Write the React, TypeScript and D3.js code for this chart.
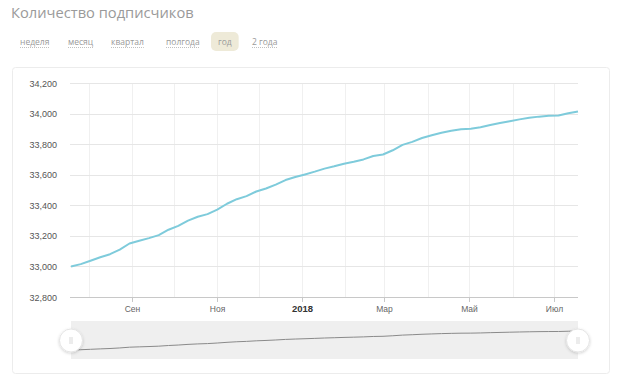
import React, { useEffect, useRef } from "react";
import * as d3 from "d3";

const titleText = "Количество подписчиков";
const rangeButtons = ["неделя", "месяц", "квартал", "полгода", "год", "2 года"];
const activeButton = "год";

const dates = [
  "2017-07-19", "2017-07-26", "2017-08-02", "2017-08-09", "2017-08-16", "2017-08-23",
  "2017-08-30", "2017-09-06", "2017-09-13", "2017-09-20", "2017-09-27", "2017-10-04",
  "2017-10-11", "2017-10-18", "2017-10-25", "2017-11-01", "2017-11-08", "2017-11-15",
  "2017-11-22", "2017-11-29", "2017-12-06", "2017-12-13", "2017-12-20", "2017-12-27",
  "2018-01-03", "2018-01-10", "2018-01-17", "2018-01-24", "2018-01-31", "2018-02-07",
  "2018-02-14", "2018-02-21", "2018-02-28", "2018-03-07", "2018-03-14", "2018-03-21",
  "2018-03-28", "2018-04-04", "2018-04-11", "2018-04-18", "2018-04-25", "2018-05-02",
  "2018-05-09", "2018-05-16", "2018-05-23", "2018-05-30", "2018-06-06", "2018-06-13",
  "2018-06-20", "2018-06-27", "2018-07-04", "2018-07-11", "2018-07-18",
];
const subscribers = [
  33000, 33015, 33037, 33060, 33080, 33110,
  33150, 33168, 33185, 33205, 33240, 33265,
  33300, 33325, 33342, 33372, 33410, 33440,
  33460, 33490, 33510, 33535, 33565, 33585,
  33602, 33620, 33640, 33655, 33672, 33685,
  33700, 33722, 33732, 33760, 33795, 33815,
  33840, 33858, 33875, 33888, 33898, 33900,
  33910, 33925, 33938, 33950, 33962, 33972,
  33980, 33985, 33988, 34002, 34014,
];
const yTicks = [32800, 33000, 33200, 33400, 33600, 33800, 34000, 34200];
const xLabelTicks = [
  { date: "2017-09-01", label: "Сен", bold: false },
  { date: "2017-11-01", label: "Ноя", bold: false },
  { date: "2018-01-01", label: "2018", bold: true },
  { date: "2018-03-01", label: "Мар", bold: false },
  { date: "2018-05-01", label: "Май", bold: false },
  { date: "2018-07-01", label: "Июл", bold: false },
];
const xDomain = ["2017-07-19", "2018-07-18"];
const yDomain = [32800, 34200];

const parse = d3.utcParse("%Y-%m-%d");

export default function App() {
  const ref = useRef<SVGSVGElement>(null);

  useEffect(() => {
    const svg = d3.select(ref.current);
    svg.selectAll("*").remove();
    const font = "'Liberation Sans', Arial, sans-serif";

    const data = dates.map((d, i) => ({ date: parse(d)!, value: subscribers[i] }));

    const x = d3.scaleUtc().domain([parse(xDomain[0])!, parse(xDomain[1])!]).range([71, 578]);
    const y = d3.scaleLinear().domain(yDomain).range([297, 83]);

    const defs = svg.append("defs");
    const filt = defs.append("filter").attr("id", "sh").attr("x", "-50%").attr("y", "-50%").attr("width", "200%").attr("height", "200%");
    filt.append("feDropShadow").attr("dx", 0).attr("dy", 1).attr("stdDeviation", 1.5).attr("flood-color", "#000").attr("flood-opacity", 0.18);

    // title
    svg.append("text").attr("x", 11).attr("y", 17.5).attr("font-family", "'Open Sans', sans-serif")
      .attr("font-size", 14.7).attr("fill", "#9a9a9a").text(titleText);

    // buttons
    const btnX = [20, 68, 111, 166, 218, 252];
    rangeButtons.forEach((b, i) => {
      const g = svg.append("g");
      const t = g.append("text").attr("x", btnX[i]).attr("y", 45).attr("font-family", "'Open Sans', sans-serif")
        .attr("font-size", 8.5).attr("fill", "#9a9a9a").text(b);
      const w = (t.node() as SVGTextElement).getComputedTextLength();
      if (b === activeButton) {
        g.insert("rect", "text").attr("x", btnX[i] - 7).attr("y", 32).attr("width", w + 14).attr("height", 19)
          .attr("rx", 5).attr("fill", "#eeead8");
      } else {
        g.append("line").attr("x1", btnX[i]).attr("x2", btnX[i] + w).attr("y1", 47.5).attr("y2", 47.5)
          .attr("stroke", "#b0b0b0").attr("stroke-width", 0.8).attr("stroke-dasharray", "1,1");
      }
    });

    // panel
    svg.append("rect").attr("x", 12.5).attr("y", 67.5).attr("width", 597).attr("height", 306).attr("rx", 3)
      .attr("fill", "#fff").attr("stroke", "#ececec");

    // vertical grid monthly
    const months = d3.utcMonth.range(x.domain()[0], x.domain()[1]);
    svg.append("g").selectAll("line").data(months).join("line")
      .attr("x1", (d) => Math.round(x(d)) + 0.5).attr("x2", (d) => Math.round(x(d)) + 0.5)
      .attr("y1", 83).attr("y2", 297).attr("stroke", "#f0f0f0");

    // horizontal grid
    svg.append("g").selectAll("line").data(yTicks.slice(1)).join("line")
      .attr("x1", 70).attr("x2", 578).attr("y1", (d) => Math.round(y(d)) + 0.5).attr("y2", (d) => Math.round(y(d)) + 0.5)
      .attr("stroke", "#e6e6e6");

    // x axis line
    svg.append("line").attr("x1", 70).attr("x2", 578).attr("y1", Math.round(y(32800)) + 0.5).attr("y2", Math.round(y(32800)) + 0.5)
      .attr("stroke", "#c8c8c8");

    // y labels
    svg.append("g").selectAll("text").data(yTicks).join("text")
      .attr("x", 57).attr("y", (d) => y(d) + 3.5).attr("text-anchor", "end")
      .attr("font-family", font).attr("font-size", 9).attr("fill", "#555")
      .text((d) => d3.format(",")(d));

    // x ticks & labels
    const xt = svg.append("g");
    xLabelTicks.forEach((t) => {
      const px = Math.round(x(parse(t.date)!)) + 0.5;
      xt.append("line").attr("x1", px).attr("x2", px).attr("y1", 297).attr("y2", 302).attr("stroke", "#c8c8c8");
      xt.append("text").attr("x", px).attr("y", 312).attr("text-anchor", "middle")
        .attr("font-family", font).attr("font-size", t.bold ? 9.5 : 8.5)
        .attr("font-weight", t.bold ? "bold" : "normal").attr("fill", t.bold ? "#333" : "#666").text(t.label);
    });

    // main line
    const line = d3.line<{ date: Date; value: number }>().x((d) => x(d.date)).y((d) => y(d.value));
    svg.append("path").datum(data).attr("d", line).attr("fill", "none").attr("stroke", "#7ecbdb")
      .attr("stroke-width", 2).attr("stroke-linejoin", "round");

    // navigator
    svg.append("rect").attr("x", 71).attr("y", 321).attr("width", 507).attr("height", 38).attr("fill", "#efefef");
    const ny = d3.scaleLinear().domain(d3.extent(subscribers) as [number, number]).range([350, 331]);
    const nline = d3.line<{ date: Date; value: number }>().x((d) => x(d.date)).y((d) => ny(d.value));
    svg.append("path").datum(data).attr("d", nline).attr("fill", "none").attr("stroke", "#8a8a8a").attr("stroke-width", 1);

    [71, 578].forEach((hx) => {
      svg.append("circle").attr("cx", hx).attr("cy", 340.5).attr("r", 11.5).attr("fill", "#fff")
        .attr("stroke", "#e4e4e4").attr("filter", "url(#sh)");
      [-1, 1].forEach((o) => {
        svg.append("line").attr("x1", hx + o).attr("x2", hx + o).attr("y1", 337).attr("y2", 344)
          .attr("stroke", "#cfcfcf").attr("stroke-width", 0.8);
      });
    });
  }, []);

  return (
    <svg ref={ref} width={620} height={392}
      style={{ position: "absolute", left: 0, top: 0, background: "#fff" }} />
  );
}
